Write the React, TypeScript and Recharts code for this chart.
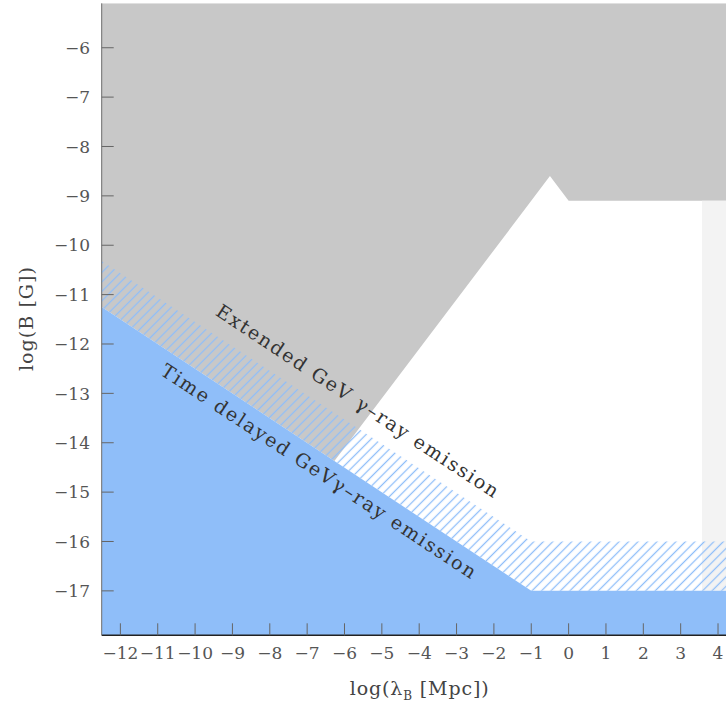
import React from 'react';
import { ComposedChart, Area, XAxis, YAxis, ReferenceDot } from 'recharts';

// Breakpoints along log(lambda_B) where any region boundary changes slope
const xBreaks = [-12.5, -6.27, -1, -0.5, 0, 3.57, 4.5];
// Excluded region (grey), lower and upper edge
const grayLower = [-11.25, -14.37, -9.1, -8.6, -9.1, -9.1, -9.1];
const grayUpper = [-5.1, -5.1, -5.1, -5.1, -5.1, -5.1, -5.1];
// Time delayed GeV emission region (solid blue)
const blueLower = [-17.9, -17.9, -17.9, -17.9, -17.9, -17.9, -17.9];
const blueUpper = [-11.25, -14.37, -17, -17, -17, -17, -17];
// Extended GeV emission band (hatched), lower edge is the blue boundary
const hatchUpper = [-10.32, -13.4, -16, -16, -16, -16, -16];
// Light shaded strip at large coherence lengths
const shadeLower: (number | null)[] = [null, null, null, null, null, -17, -17];
const shadeUpper: (number | null)[] = [null, null, null, null, null, -9.1, -9.1];

const xTicks = [-12, -11, -10, -9, -8, -7, -6, -5, -4, -3, -2, -1, 0, 1, 2, 3, 4];
const yTicks = [-17, -16, -15, -14, -13, -12, -11, -10, -9, -8, -7, -6];

const bandLabels = [
  { x: -5.75, y: -13.265, text: 'Extended GeV γ–ray emission', length: 334 },
  { x: -6.79, y: -14.686, text: 'Time delayed GeVγ–ray emission', length: 373 },
];

const rows = xBreaks.map((x, i) => ({
  x,
  gray: [grayLower[i], grayUpper[i]],
  blue: [blueLower[i], blueUpper[i]],
  hatch: [blueUpper[i], hatchUpper[i]],
  shade: shadeLower[i] === null ? null : [shadeLower[i], shadeUpper[i]],
}));

const FONT = '"DejaVu Serif", "Liberation Serif", serif';
const TICK_COLOR = '#666';
const LABEL_COLOR = '#555';
const fmt = (v: number) => String(v).replace('-', '−');

const BottomTick = (p: any) => (
  <g>
    <line x1={p.x} x2={p.x} y1={p.y} y2={p.y - 12} stroke={TICK_COLOR} strokeWidth={1} />
    <text x={p.x} y={p.y + 23.4} textAnchor="middle" fontFamily={FONT} fontSize={17} fill={LABEL_COLOR}>
      {fmt(p.payload.value)}
    </text>
  </g>
);

const TopTick = (p: any) => (
  <line x1={p.x} x2={p.x} y1={p.y} y2={p.y + 12} stroke={TICK_COLOR} strokeWidth={1} />
);

const LeftTick = (p: any) => (
  <g>
    <line x1={p.x} x2={p.x + 12} y1={p.y} y2={p.y} stroke={TICK_COLOR} strokeWidth={1} />
    <text x={p.x - 11.7} y={p.y + 6.2} textAnchor="end" fontFamily={FONT} fontSize={17} fill={LABEL_COLOR}>
      {fmt(p.payload.value)}
    </text>
  </g>
);

const RightTick = (p: any) => (
  <line x1={p.x} x2={p.x - 12} y1={p.y} y2={p.y} stroke={TICK_COLOR} strokeWidth={1} />
);

const XTitle = (p: any) => {
  const vb = p.viewBox;
  return (
    <text
      x={vb.x + vb.width / 2}
      y={vb.y + 59.7}
      textAnchor="middle"
      fontFamily={FONT}
      fontSize={19}
      fill="#444"
      textLength={139}
      lengthAdjust="spacing"
    >
      log(λ
      <tspan fontSize={12} dy={5}>B</tspan>
      <tspan dy={-5}> [Mpc])</tspan>
    </text>
  );
};

const YTitle = (p: any) => {
  const vb = p.viewBox;
  const cx = vb.x - 15.7;
  const cy = 319;
  return (
    <text
      x={cx}
      y={cy}
      transform={`rotate(-90 ${cx} ${cy})`}
      textAnchor="middle"
      dominantBaseline="central"
      fontFamily={FONT}
      fontSize={19}
      fill="#444"
      textLength={104}
      lengthAdjust="spacing"
    >
      log(B [G])
    </text>
  );
};

export default function App() {
  return (
    <div style={{ position: 'absolute', left: 0, top: 0, width: 726, height: 706, overflow: 'hidden', background: '#fff' }}>
      <ComposedChart
        width={760}
        height={706}
        data={rows}
        margin={{ top: 3.3, right: 23.3, bottom: 20.7, left: 41.7 }}
      >
        <defs>
          <pattern id="hatch" patternUnits="userSpaceOnUse" width={6.7} height={6.7} patternTransform="rotate(45)">
            <line x1={3.35} x2={3.35} y1={0} y2={6.7} stroke="#8fbef9" strokeWidth={1.3} />
          </pattern>
        </defs>
        <XAxis
          xAxisId="b"
          dataKey="x"
          type="number"
          domain={[-12.5, 4.5]}
          allowDataOverflow
          ticks={xTicks}
          interval={0}
          height={50}
          tickSize={0}
          tickMargin={0}
          tickLine={false}
          tick={BottomTick}
          axisLine={{ stroke: '#222', strokeWidth: 1.5 }}
          label={XTitle}
        />
        <XAxis
          xAxisId="t"
          orientation="top"
          dataKey="x"
          type="number"
          domain={[-12.5, 4.5]}
          allowDataOverflow
          ticks={xTicks}
          interval={0}
          height={0}
          tickSize={0}
          tickMargin={0}
          tickLine={false}
          tick={TopTick}
          axisLine={{ stroke: '#6b6b6b', strokeWidth: 1 }}
        />
        <YAxis
          yAxisId="l"
          type="number"
          domain={[-17.9, -5.1]}
          allowDataOverflow
          ticks={yTicks}
          interval={0}
          width={60}
          tickSize={0}
          tickMargin={0}
          tickLine={false}
          tick={LeftTick}
          axisLine={{ stroke: '#6b6b6b', strokeWidth: 1 }}
          label={YTitle}
        />
        <YAxis
          yAxisId="r"
          orientation="right"
          type="number"
          domain={[-17.9, -5.1]}
          allowDataOverflow
          ticks={yTicks}
          interval={0}
          width={0}
          tickSize={0}
          tickMargin={0}
          tickLine={false}
          tick={RightTick}
          axisLine={{ stroke: '#6b6b6b', strokeWidth: 1 }}
        />
        <Area xAxisId="b" yAxisId="l" type="linear" dataKey="gray" fill="#c8c8c8" fillOpacity={1} stroke="none" isAnimationActive={false} />
        <Area xAxisId="b" yAxisId="l" type="linear" dataKey="shade" fill="#f3f3f3" fillOpacity={1} stroke="none" isAnimationActive={false} />
        <Area xAxisId="b" yAxisId="l" type="linear" dataKey="blue" fill="#8fbef9" fillOpacity={1} stroke="none" isAnimationActive={false} />
        <Area xAxisId="b" yAxisId="l" type="linear" dataKey="hatch" fill="url(#hatch)" fillOpacity={1} stroke="none" isAnimationActive={false} />
        {bandLabels.map((b) => (
          <ReferenceDot
            key={b.text}
            xAxisId="b"
            yAxisId="l"
            x={b.x}
            y={b.y}
            r={0}
            shape={(p: any) => (
              <text
                x={p.cx}
                y={p.cy}
                transform={`rotate(33.4 ${p.cx} ${p.cy})`}
                textAnchor="middle"
                fontFamily={FONT}
                fontSize={19}
                fill="#333"
                textLength={b.length}
                lengthAdjust="spacing"
              >
                {b.text}
              </text>
            )}
          />
        ))}
      </ComposedChart>
    </div>
  );
}
